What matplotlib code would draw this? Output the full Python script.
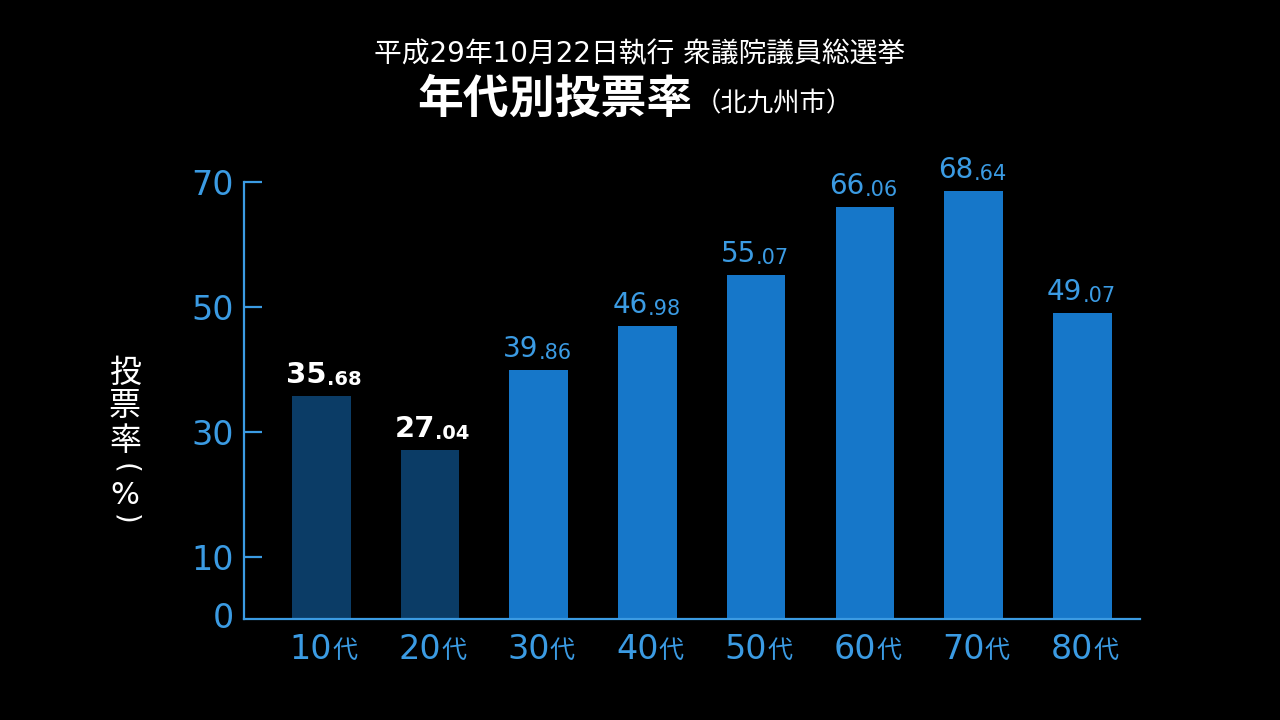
import matplotlib.pyplot as plt

plt.rcParams['font.family'] = ['DejaVu Sans', 'Noto Sans CJK JP']

ages = ['10', '20', '30', '40', '50', '60', '70', '80']
rates = [35.68, 27.04, 39.86, 46.98, 55.07, 66.06, 68.64, 49.07]
highlight = [True, True, False, False, False, False, False, False]
yticks = [10, 30, 50, 70]

title1 = '平成29年10月22日執行 衆議院議員総選挙'
title2 = '年代別投票率'
title2_sub = '（北九州市）'
ylabel_text = '投票率'

dark_bar = '#0b3c66'
blue_bar = '#1677c9'
axis_blue = '#3b9be3'

fig = plt.figure(figsize=(12.8, 7.2), dpi=100, facecolor='black')
ax = fig.add_axes([0.1906, 0.1403, 0.7, 0.6069], facecolor='black')

x = list(range(len(ages)))
colors = [dark_bar if h else blue_bar for h in highlight]
ax.bar(x, rates, width=0.54, color=colors, zorder=2)

ax.set_xlim(-0.71, 7.53)
ax.set_ylim(0, 70)

for s in ['top', 'right']:
    ax.spines[s].set_visible(False)
for s in ['left', 'bottom']:
    ax.spines[s].set_color(axis_blue)
    ax.spines[s].set_linewidth(1.6)

ax.set_yticks(yticks)
ax.set_yticklabels([str(t) for t in yticks])
ax.tick_params(axis='y', direction='in', length=13, width=1.6, color=axis_blue,
               labelcolor=axis_blue, labelsize=24, pad=7)
ax.tick_params(axis='x', length=0, labelbottom=False)
# "0" label at the origin, no tick
ax.annotate('0', (0, 0), xycoords=ax.get_yaxis_transform(), xytext=(-7, 0),
            textcoords='offset points', ha='right', va='center',
            color=axis_blue, fontsize=24)

# value labels: large integer part, smaller decimals
for i, (v, h) in enumerate(zip(rates, highlight)):
    ip, dp = f'{v:.2f}'.split('.')
    if h:
        c, w, dx, fs1, fs2 = 'white', 'bold', 4, 21, 14
    else:
        c, w, dx, fs1, fs2 = axis_blue, 'normal', 0, 20, 15
    ax.annotate(ip, (i, v), xytext=(dx, 5), textcoords='offset points',
                ha='right', va='bottom', color=c, fontsize=fs1, fontweight=w)
    ax.annotate('.' + dp, (i, v), xytext=(dx, 5), textcoords='offset points',
                ha='left', va='bottom', color=c, fontsize=fs2, fontweight=w)

# x labels: "10" + smaller "代"
for i, a in enumerate(ages):
    ax.annotate(a, (i, 0), xytext=(8, -29), textcoords='offset points',
                ha='right', va='baseline', color=axis_blue, fontsize=24)
    ax.annotate('代', (i, 0), xytext=(8, -28), textcoords='offset points',
                ha='left', va='baseline', color=axis_blue, fontsize=18)

# titles
fig.text(0.5, 0.925, title1, ha='center', va='center', color='white', fontsize=20)
fig.text(0.5414, 0.86, title2, ha='right', va='center', color='white',
         fontsize=33, fontweight='bold')
fig.text(0.543, 0.855, title2_sub, ha='left', va='center', color='white', fontsize=19)

# vertical y label: stacked characters, then a turned "(%)"
yl_x = 125 / 1280
for k, ch in enumerate(ylabel_text):
    fig.text(yl_x, 1 - (373 + 34 * k) / 720, ch, ha='center', va='center',
             color='white', fontsize=23)
fig.text(yl_x, 1 - 468 / 720, '(', rotation=-90, ha='center', va='center',
         color='white', fontsize=20)
fig.text(yl_x, 1 - 495 / 720, '%', ha='center', va='center',
         color='white', fontsize=22)
fig.text(yl_x, 1 - 519 / 720, ')', rotation=-90, ha='center', va='center',
         color='white', fontsize=20)

fig.savefig('out.png', dpi=100, facecolor='black')
